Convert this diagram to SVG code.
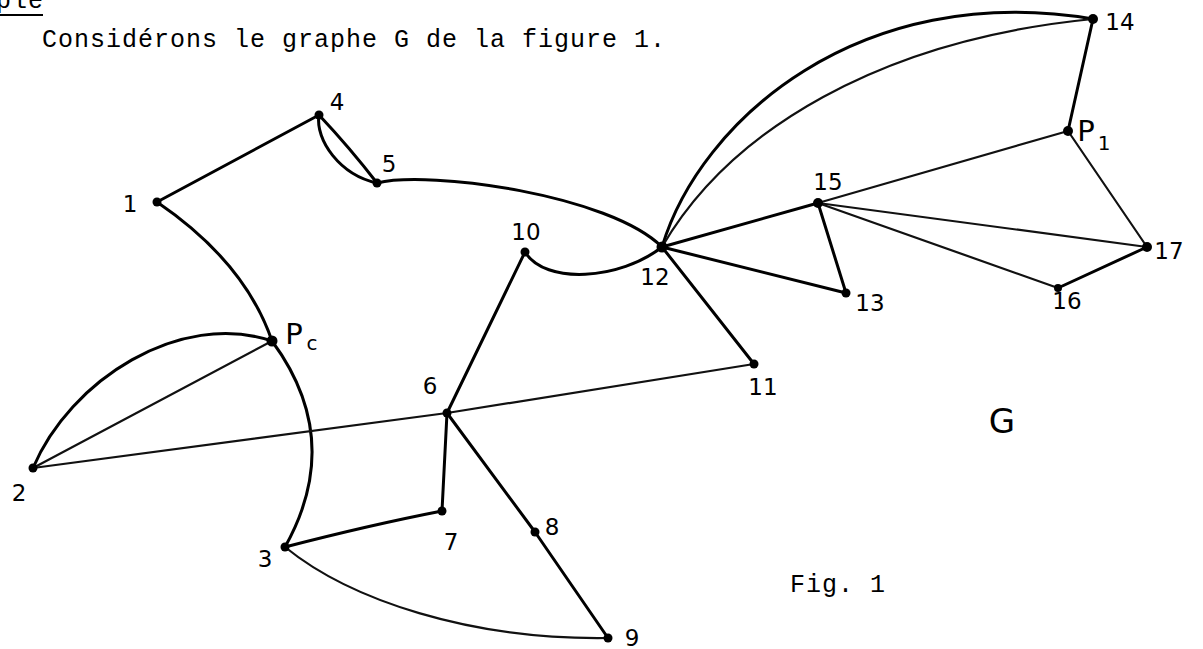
<svg xmlns="http://www.w3.org/2000/svg" width="1203" height="649" viewBox="0 0 1203 649">
<style>
.e{fill:none;stroke:#000;stroke-width:3;stroke-linecap:round;stroke-linejoin:round}
.t{stroke-width:2.2;stroke:#111}
.n{fill:#000}
.l{font-family:"DejaVu Sans","Liberation Sans",sans-serif;font-size:23px;fill:#000;text-anchor:middle}
.p{font-size:29px}
.s{font-size:20px}
.tw{font-family:"Liberation Mono","DejaVu Sans Mono",monospace;font-size:25px;letter-spacing:1px;fill:#000}
</style>
<rect width="1203" height="649" fill="#fff"/>
<text class="tw" x="-4" y="8">ple</text>
<line x1="0" y1="15" x2="43" y2="15" stroke="#000" stroke-width="2"/>
<text class="tw" x="42" y="47">Considérons le graphe G de la figure 1.</text>
<text class="tw" x="790" y="592">Fig. 1</text>
<text x="1002" y="433" font-family="DejaVu Sans, sans-serif" font-size="34" text-anchor="middle">G</text>
<g id="edges">
<line class="e" x1="157" y1="202" x2="319" y2="115"/>
<path class="e" d="M157,202 Q245,262 272,341"/>
<path class="e" d="M319,115 Q350,148 377,183"/>
<path class="e" d="M319,115 C315,140 340,175 377,183"/>
<path class="e" d="M377,183 C430,170 610,195 662,247"/>
<path class="e" d="M33,468 C70,380 180,310 272,341"/>
<line class="e t" x1="33" y1="468" x2="272" y2="341"/>
<path class="e" d="M272,341 Q345,440 285,547"/>
<line class="e t" x1="33" y1="468" x2="447" y2="413"/>
<line class="e t" x1="447" y1="413" x2="754" y2="364"/>
<line class="e" x1="447" y1="413" x2="525" y2="252"/>
<path class="e" d="M525,252 C545,285 620,280 662,247"/>
<line class="e" x1="447" y1="413" x2="442" y2="511"/>
<line class="e" x1="447" y1="413" x2="535" y2="532"/>
<line class="e" x1="535" y1="532" x2="608" y2="638"/>
<path class="e" d="M285,547 Q370,525 442,511"/>
<path class="e t" d="M285,547 C350,600 470,640 608,638"/>
<line class="e" x1="662" y1="247" x2="754" y2="364"/>
<line class="e" x1="662" y1="247" x2="846" y2="293"/>
<line class="e" x1="662" y1="247" x2="818" y2="203"/>
<line class="e" x1="818" y1="203" x2="846" y2="293"/>
<path class="e" d="M662,247 C700,120 860,-20 1093,19"/>
<path class="e t" d="M662,247 C730,130 880,40 1093,19"/>
<line class="e" x1="1093" y1="19" x2="1068" y2="131"/>
<line class="e t" x1="818" y1="203" x2="1068" y2="131"/>
<line class="e t" x1="1068" y1="131" x2="1147" y2="247"/>
<line class="e t" x1="818" y1="203" x2="1147" y2="247"/>
<line class="e t" x1="818" y1="203" x2="1058" y2="288"/>
<line class="e" x1="1058" y1="288" x2="1147" y2="247"/>
</g>
<g id="n1"><circle class="n" cx="157" cy="202" r="4.5"/><text class="l" x="130" y="212">1</text></g>
<g id="n4"><circle class="n" cx="319" cy="115" r="4.5"/><text class="l" x="337" y="110">4</text></g>
<g id="n5"><circle class="n" cx="377" cy="183" r="4.5"/><text class="l" x="389" y="172">5</text></g>
<g id="p0"><circle class="n" cx="272" cy="341" r="5.5"/><text class="l p" x="294" y="344">P</text><text class="l s" x="312" y="350">c</text></g>
<g id="n2"><circle class="n" cx="33" cy="468" r="4.5"/><text class="l" x="19" y="501">2</text></g>
<g id="n3"><circle class="n" cx="285" cy="547" r="4.5"/><text class="l" x="265" y="567">3</text></g>
<g id="n6"><circle class="n" cx="447" cy="413" r="4.5"/><text class="l" x="430" y="394">6</text></g>
<g id="n7"><circle class="n" cx="442" cy="511" r="4.5"/><text class="l" x="451" y="550">7</text></g>
<g id="n8"><circle class="n" cx="535" cy="532" r="4.5"/><text class="l" x="552" y="535">8</text></g>
<g id="n9"><circle class="n" cx="608" cy="638" r="4.5"/><text class="l" x="632" y="646">9</text></g>
<g id="n10"><circle class="n" cx="525" cy="252" r="4.5"/><text class="l" x="526" y="240">10</text></g>
<g id="n11"><circle class="n" cx="754" cy="364" r="4.5"/><text class="l" x="763" y="395">11</text></g>
<g id="n12"><circle class="n" cx="662" cy="247" r="5.5"/><text class="l" x="655" y="285">12</text></g>
<g id="n13"><circle class="n" cx="846" cy="293" r="4.5"/><text class="l" x="870" y="311">13</text></g>
<g id="n15"><circle class="n" cx="818" cy="203" r="5"/><text class="l" x="828" y="190">15</text></g>
<g id="n16"><circle class="n" cx="1058" cy="288" r="4"/><text class="l" x="1067" y="309">16</text></g>
<g id="n17"><circle class="n" cx="1147" cy="247" r="5"/><text class="l" x="1169" y="259">17</text></g>
<g id="p1"><circle class="n" cx="1068" cy="131" r="5"/><text class="l p" x="1086" y="141">P</text><text class="l s" x="1104" y="150">1</text></g>
<g id="n14"><circle class="n" cx="1093" cy="19" r="5"/><text class="l" x="1120" y="30">14</text></g>
</svg>
